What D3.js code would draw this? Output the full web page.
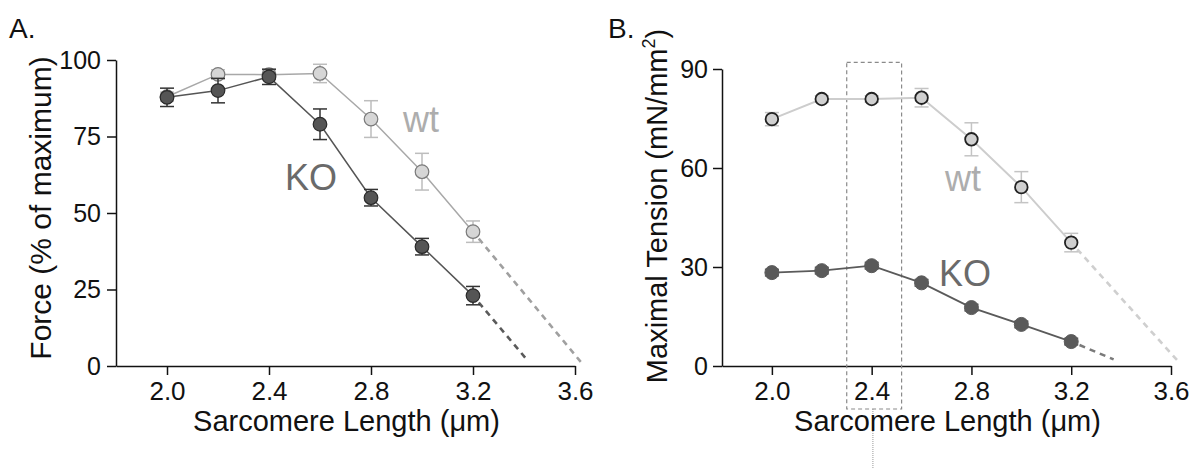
<!DOCTYPE html>
<html>
<head>
<meta charset="utf-8">
<script src="https://cdn.jsdelivr.net/npm/d3@7"></script>
<style>
  html, body { margin: 0; padding: 0; background: #fff; }
  svg { display: block; font-family: Arial, "Liberation Sans", sans-serif; }
</style>
</head>
<body>
<svg id="chart" width="1203" height="469"></svg>
<script>
// ---------- data ----------
const lengths = [2.0, 2.2, 2.4, 2.6, 2.8, 3.0, 3.2];
const xTicks = [2.0, 2.4, 2.8, 3.2, 3.6];

// Panel A: Force (% of maximum)
const forceTicks = [0, 25, 50, 75, 100];
const forceWT = [88, 95.3, 95.2, 95.6, 80.7, 63.5, 43.9];
const forceWTErr = [1.5, 1.5, 1.5, 3, 6, 6, 3.5];
const forceKO = [87.8, 90, 94.5, 79, 55, 39, 23];
const forceKOErr = [3, 4, 2.5, 5, 2.7, 2.7, 3];
const forceWTExtrap = [[3.2, 43.9], [3.627, 0.9]];
const forceKOExtrap = [[3.2, 23], [3.41, 2.2]];

// Panel B: Maximal Tension (mN/mm2)
const tensionTicks = [0, 30, 60, 90];
const tensionWT = [74.8, 80.9, 80.9, 81.3, 68.7, 54.2, 37.4];
const tensionWTErr = [2, 1, 1, 2.8, 5, 4.7, 2.8];
const tensionKO = [28.3, 28.9, 30.4, 25.2, 17.7, 12.6, 7.4];
const tensionKOErr = [1, 1, 1, 1, 1, 1, 1];
const tensionWTExtrap = [[3.2, 37.4], [3.636, 0.8]];
const tensionKOExtrap = [[3.2, 7.4], [3.37, 2.0]];
const highlightBox = [2.3, 2.52];
const highlightTop = 92;

const svg = d3.select("#chart");
const FONT = 'Arial, "Liberation Sans", sans-serif';

function drawPanel(p) {
  const x = d3.scaleLinear().domain([1.8, 3.6]).range([p.left, p.right]);
  const y = d3.scaleLinear().domain([0, p.yMax]).range([p.bottom, p.top]);
  const g = svg.append("g");

  // axes
  const xAxis = d3.axisBottom(x).tickValues(xTicks).tickFormat(d3.format(".1f"))
    .tickSize(9).tickSizeOuter(0).tickPadding(7);
  const gx = g.append("g").attr("transform", `translate(0,${p.bottom})`).call(xAxis);
  gx.selectAll("text").attr("font-size", 26).attr("fill", "#111").attr("font-family", FONT);
  const yAxis = d3.axisLeft(y).tickValues(p.yTicks).tickSize(9).tickSizeOuter(0).tickPadding(p.yPad);
  const gy = g.append("g").attr("transform", `translate(${p.left},0)`).call(yAxis);
  gy.selectAll("text").attr("font-size", 25).attr("fill", "#111").attr("font-family", FONT);
  [gx, gy].forEach(a => {
    a.select(".domain").attr("stroke", "#111").attr("stroke-width", 1.5);
    a.selectAll(".tick line").attr("stroke", "#111").attr("stroke-width", 1.5);
  });

  // extra decorations (box)
  if (p.box) {
    const bx0 = x(p.box[0]), bx1 = x(p.box[1]);
    g.append("rect").attr("x", bx0).attr("y", y(p.boxTop))
      .attr("width", bx1 - bx0).attr("height", p.boxBottom - y(p.boxTop))
      .attr("fill", "none").attr("stroke", "#8a8a8a").attr("stroke-width", 1.2)
      .attr("stroke-dasharray", "4,3");
    g.append("line").attr("x1", x(2.405)).attr("x2", x(2.405))
      .attr("y1", p.boxBottom).attr("y2", 469)
      .attr("stroke", "#999").attr("stroke-width", 1).attr("stroke-dasharray", "1,1");
  }

  const line = d3.line().x(d => x(d[0])).y(d => y(d[1]));

  p.series.forEach(s => {
    const pts = lengths.map((l, i) => [l, s.values[i], s.err[i]]);
    // dashed extrapolation
    g.append("path").datum(s.extrap).attr("d", line)
      .attr("fill", "none").attr("stroke", s.dashColor).attr("stroke-width", 2.6)
      .attr("stroke-dasharray", "6,5").attr("stroke-dashoffset", -9);
    // connecting line
    g.append("path").datum(pts).attr("d", line)
      .attr("fill", "none").attr("stroke", s.lineColor).attr("stroke-width", s.lineWidth);
    // error bars
    const eb = g.append("g").attr("stroke", s.errColor).attr("stroke-width", 1.5);
    pts.forEach(d => {
      const xx = x(d[0]);
      eb.append("line").attr("x1", xx).attr("x2", xx).attr("y1", y(d[1] - d[2])).attr("y2", y(d[1] + d[2]));
      eb.append("line").attr("x1", xx - 7).attr("x2", xx + 7).attr("y1", y(d[1] - d[2])).attr("y2", y(d[1] - d[2]));
      eb.append("line").attr("x1", xx - 7).attr("x2", xx + 7).attr("y1", y(d[1] + d[2])).attr("y2", y(d[1] + d[2]));
    });
    // markers
    g.append("g").selectAll("circle").data(pts).join("circle")
      .attr("cx", d => x(d[0])).attr("cy", d => y(d[1])).attr("r", s.r)
      .attr("fill", s.fill).attr("stroke", s.stroke).attr("stroke-width", s.strokeWidth);
  });

  // series labels
  p.labels.forEach(l => {
    g.append("text").attr("x", l.x).attr("y", l.y).text(l.text)
      .attr("font-size", 36).attr("fill", l.color).attr("font-family", FONT);
  });

  // panel letter
  g.append("text").attr("x", p.letterX).attr("y", 38).text(p.letter)
    .attr("font-size", 28).attr("fill", "#111").attr("font-family", FONT);

  // axis titles
  g.append("text").attr("x", (p.left + p.right) / 2 + 1).attr("y", 431)
    .attr("text-anchor", "middle").attr("font-size", 29).attr("fill", "#111")
    .attr("font-family", FONT)
    .text("Sarcomere Length (\u03BCm)");
  const yt = g.append("text")
    .attr("transform", `translate(${p.yTitleX},${p.yTitleY}) rotate(-90)`)
    .attr("text-anchor", "middle").attr("font-size", p.yTitleSize).attr("fill", "#111")
    .attr("font-family", FONT);
  p.yTitle(yt);
}

drawPanel({
  letter: "A.", letterX: 9,
  left: 116, right: 575, top: 60, bottom: 366, yMax: 100, yTicks: forceTicks, yPad: 6,
  yTitleX: 51, yTitleY: 208, yTitleSize: 30,
  yTitle: t => t.text("Force (% of maximum)"),
  series: [
    { values: forceWT, err: forceWTErr, extrap: forceWTExtrap,
      lineColor: "#a8a8a8", lineWidth: 1.5, dashColor: "#a0a0a0", errColor: "#bdbdbd",
      fill: "#d6d6d6", stroke: "#7a7a7a", strokeWidth: 1.2, r: 6.8 },
    { values: forceKO, err: forceKOErr, extrap: forceKOExtrap,
      lineColor: "#555", lineWidth: 1.5, dashColor: "#5a5a5a", errColor: "#333",
      fill: "#555", stroke: "#2a2a2a", strokeWidth: 1.2, r: 6.8 }
  ],
  labels: [
    { text: "wt", x: 403, y: 132, color: "#adadad" },
    { text: "KO", x: 285, y: 190, color: "#6a6a6a" }
  ]
});

drawPanel({
  letter: "B.", letterX: 608,
  left: 722, right: 1171, top: 69, bottom: 366, yMax: 90, yTicks: tensionTicks, yPad: 5,
  yTitleX: 667, yTitleY: 206, yTitleSize: 29,
  box: highlightBox, boxTop: highlightTop, boxBottom: 409,
  yTitle: t => {
    t.append("tspan").text("Maximal Tension (mN/mm");
    t.append("tspan").text("2").attr("font-size", 18).attr("dy", -12);
    t.append("tspan").text(")").attr("dy", 12);
  },
  series: [
    { values: tensionWT, err: tensionWTErr, extrap: tensionWTExtrap,
      lineColor: "#cdcdcd", lineWidth: 2, dashColor: "#cfcfcf", errColor: "#c4c4c4",
      fill: "#d0d0d0", stroke: "#222", strokeWidth: 1.8, r: 6.3 },
    { values: tensionKO, err: tensionKOErr, extrap: tensionKOExtrap,
      lineColor: "#5a5a5a", lineWidth: 1.8, dashColor: "#7a7a7a", errColor: "#555",
      fill: "#5a5a5a", stroke: "#5a5a5a", strokeWidth: 1, r: 7 }
  ],
  labels: [
    { text: "wt", x: 945, y: 191, color: "#adadad" },
    { text: "KO", x: 939, y: 286, color: "#6a6a6a" }
  ]
});
</script>
</body>
</html>
